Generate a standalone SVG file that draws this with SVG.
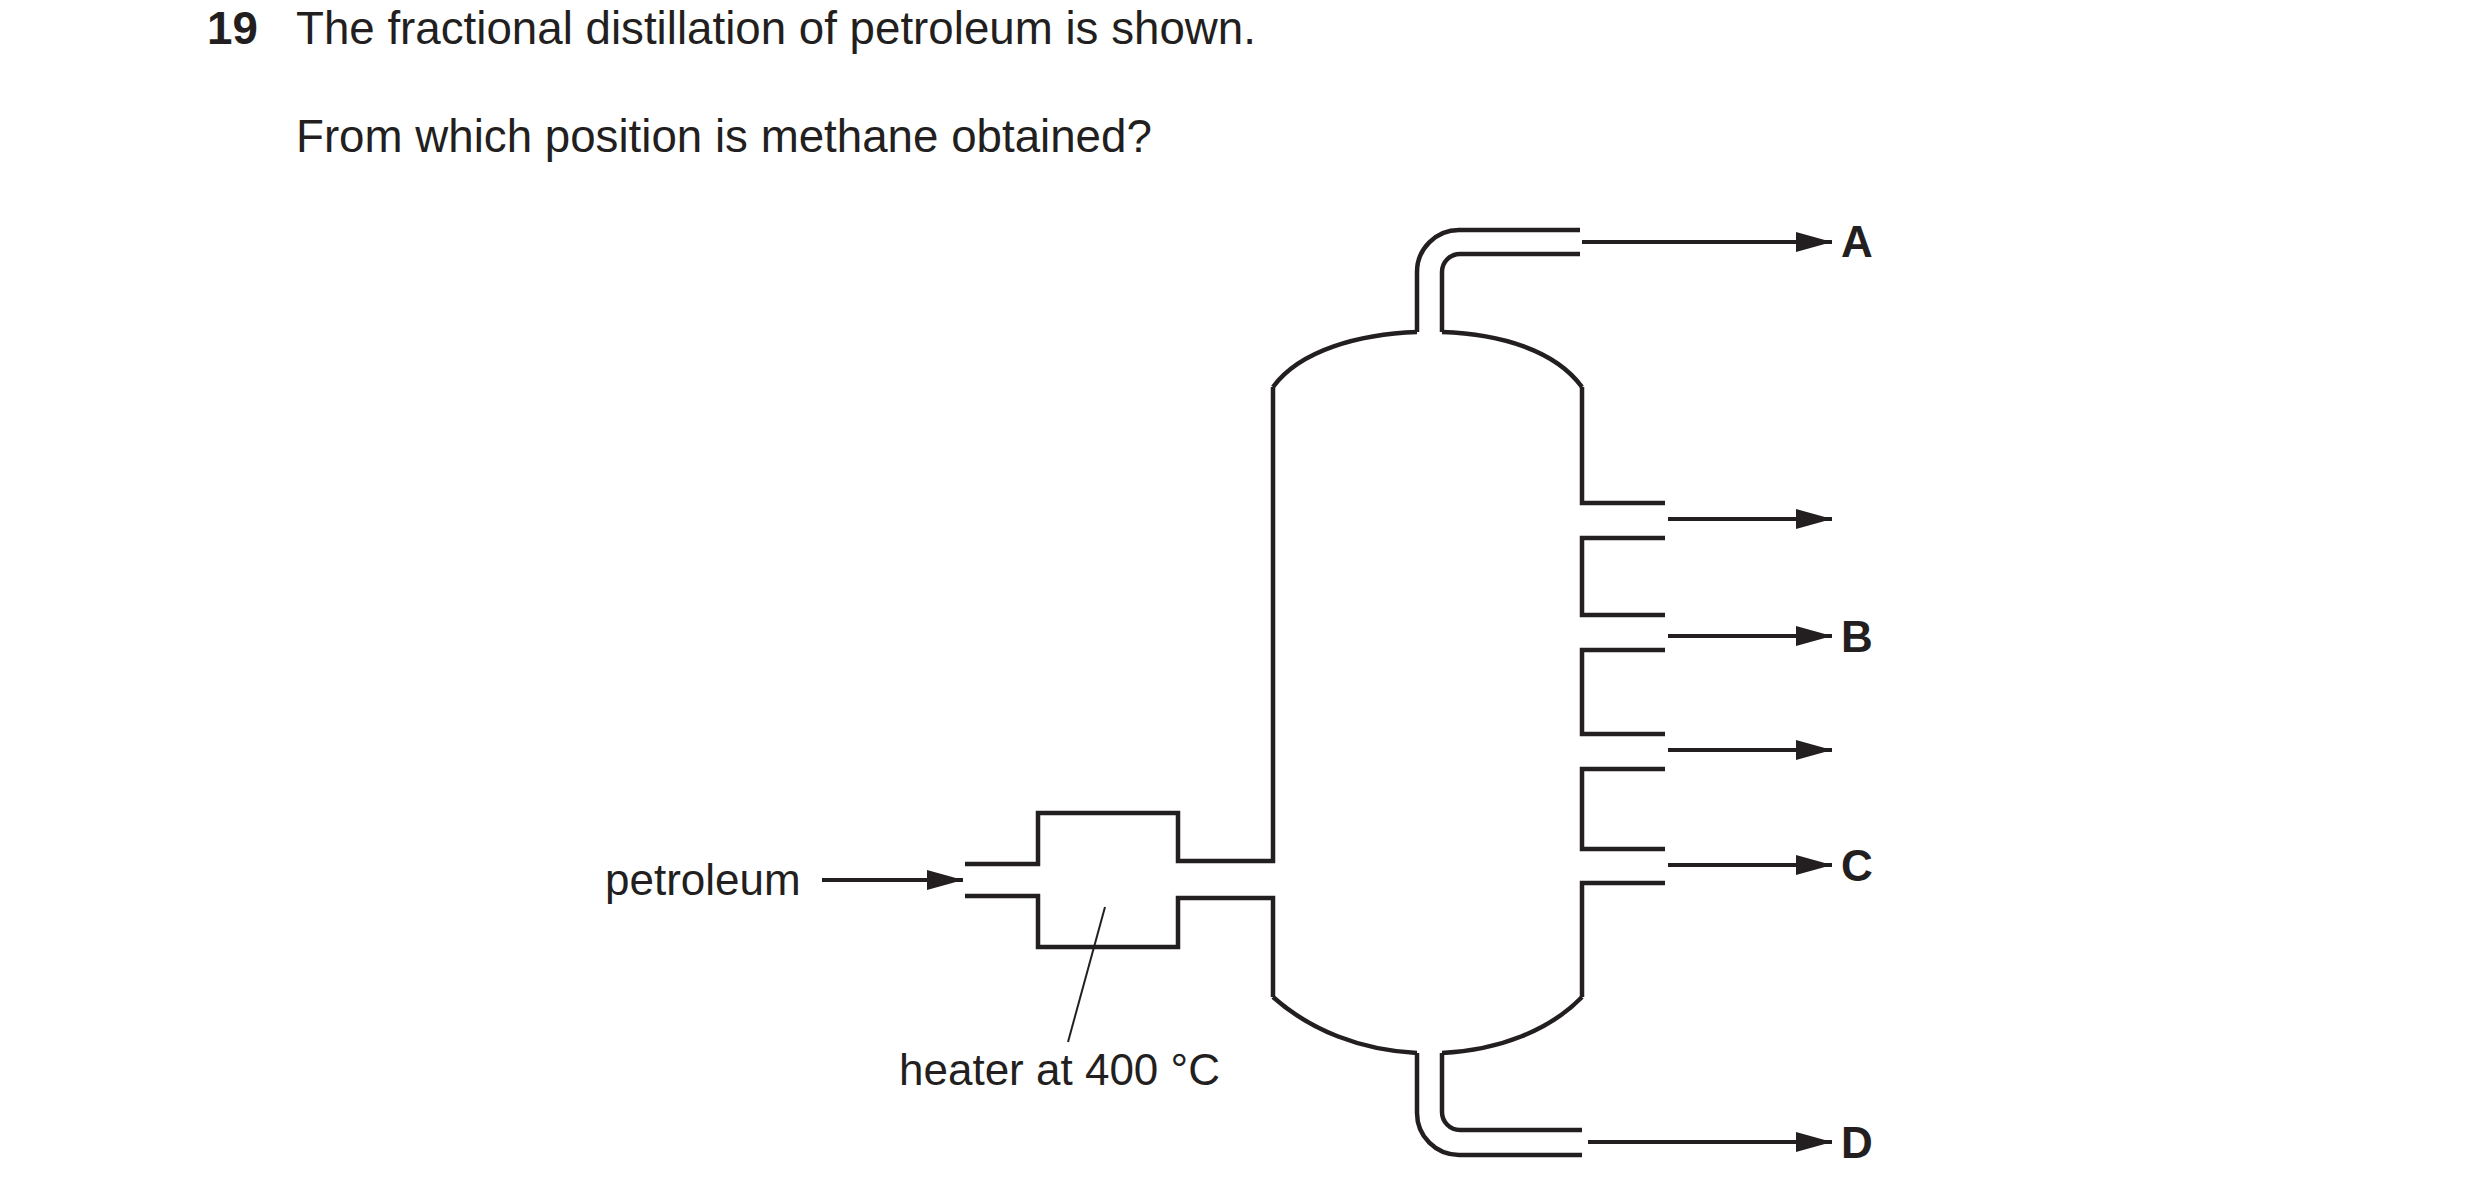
<svg xmlns="http://www.w3.org/2000/svg" width="2480" height="1197" viewBox="0 0 2480 1197">
<style>
.w{fill:none;stroke:#231f20;stroke-width:4.5}
.a{fill:none;stroke:#231f20;stroke-width:4}
.t{font-family:"Liberation Sans",Arial,sans-serif;font-size:44px;fill:#231f20}
.h{font-size:45.7px}
.b{font-weight:bold}
</style>
<defs>
<marker id="ah" markerUnits="userSpaceOnUse" markerWidth="40" markerHeight="24" refX="36" refY="10" orient="auto">
<path d="M0,0 L36,10 L0,20 Z" fill="#231f20"/>
</marker>
</defs>
<rect width="2480" height="1197" fill="#fff"/>
<text class="t h b" x="207" y="44">19</text>
<text class="t h" x="296" y="44">The fractional distillation of petroleum is shown.</text>
<text class="t h" x="296" y="152">From which position is methane obtained?</text>
<g id="column">
<path class="w" d="M1273,387 C1300,350 1360,334 1417,332 M1442,332 C1500,334 1555,350 1582,387"/>
<path class="w" d="M1273,997 C1310,1030 1360,1050 1417,1053 M1442,1053 C1500,1050 1550,1030 1582,997"/>
<path class="w" d="M1417,332 V272 A42,42 0 0 1 1459,230 H1580 M1442,332 V272 A18,18 0 0 1 1460,254 H1580"/>
<path class="w" d="M1417,1053 V1113 A42,42 0 0 0 1459,1155 H1582 M1442,1053 V1112 A18,18 0 0 0 1460,1130 H1582"/>
<path class="w" d="M1582,387 V503 H1665 M1665,538 H1582 V615 H1665 M1665,650 H1582 V734 H1665 M1665,769 H1582 V849 H1665 M1665,883 H1582 V997"/>
</g>
<g id="heater">
<path class="w" d="M1273,387 V861 H1178 V813 H1038 V864 H965 M965,896 H1038 V947 H1178 V898 H1273 V997"/>
<line x1="1105" y1="907" x2="1068" y2="1042" stroke="#231f20" stroke-width="2"/>
<text class="t" x="899" y="1085">heater at 400 °C</text>
</g>
<g id="petroleum"><text class="t" x="605" y="895">petroleum</text></g>
<g id="connectors">
<line class="a" x1="822" y1="880" x2="963" y2="880" marker-end="url(#ah)"/>
<line class="a" x1="1582" y1="242" x2="1832" y2="242" marker-end="url(#ah)"/>
<line class="a" x1="1668" y1="519" x2="1832" y2="519" marker-end="url(#ah)"/>
<line class="a" x1="1668" y1="636" x2="1832" y2="636" marker-end="url(#ah)"/>
<line class="a" x1="1668" y1="750" x2="1832" y2="750" marker-end="url(#ah)"/>
<line class="a" x1="1668" y1="865" x2="1832" y2="865" marker-end="url(#ah)"/>
<line class="a" x1="1588" y1="1142" x2="1832" y2="1142" marker-end="url(#ah)"/>
</g>
<g id="labels">
<text class="t b" x="1841" y="257">A</text>
<text class="t b" x="1841" y="652">B</text>
<text class="t b" x="1841" y="881">C</text>
<text class="t b" x="1841" y="1158">D</text>
</g>
</svg>
